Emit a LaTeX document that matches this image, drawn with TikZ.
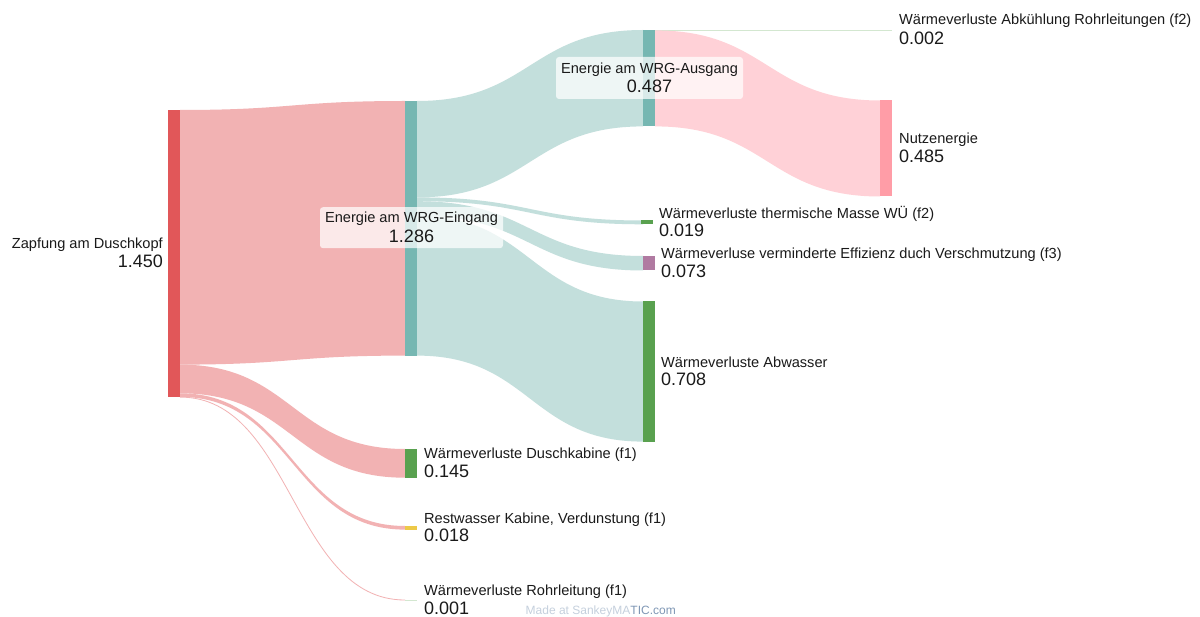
\documentclass[tikz,border=0pt]{standalone}
\usepackage{fontspec}
\setmainfont{Liberation Sans}
\definecolor{cred}{HTML}{E15759}
\definecolor{zflow}{HTML}{F2B2B3}
\definecolor{cteal}{HTML}{76B7B2}
\definecolor{tflow}{HTML}{C3DFDC}
\definecolor{cpink}{HTML}{FF9DA7}
\definecolor{nflow}{HTML}{FFD1D7}
\definecolor{cgreen}{HTML}{59A14F}
\definecolor{cyellow}{HTML}{EDC948}
\definecolor{cpurple}{HTML}{B07AA1}
\definecolor{lgreen}{HTML}{D3E7D0}
\definecolor{txt}{HTML}{1A1A1A}
\definecolor{madelight}{HTML}{C5D0DD}
\definecolor{madedark}{HTML}{7F97B5}
\newcommand\flowrib[7]{\fill[#7] (#1,#2) .. controls ({(#1+#4)/2},#2) and ({(#1+#4)/2},#5) .. (#4,#5) -- (#4,#6) .. controls ({(#1+#4)/2},#6) and ({(#1+#4)/2},#3) .. (#1,#3) -- cycle;}
\begin{document}
\begin{tikzpicture}[x=1pt,y=-1pt,
  sbar/.style={rectangle, inner sep=0pt, outer sep=0pt, minimum width=12pt, anchor=north west},
  lbl/.style={font=\fontsize{14.6}{16}\selectfont, text=txt, inner sep=0pt, anchor=base west},
  num/.style={font=\fontsize{18}{20}\selectfont, text=txt, inner sep=0pt, anchor=base west},
  lblbox/.style={rectangle, fill=white, fill opacity=0.72, rounded corners=3pt, inner sep=0pt}]
\useasboundingbox (0,0) rectangle (1200,617);
\fill[white] (0,0) rectangle (1200,617);
% flows
\flowrib{180}{110}{364.6}{405}{101}{355.6}{zflow}
\flowrib{180}{364.6}{393.3}{405}{449}{477.7}{zflow}
\flowrib{180}{393.3}{396.9}{405}{526}{529.6}{zflow}
\draw[zflow, line width=0.8pt] (180,397.1) .. controls (292.5,397.1) and (292.5,600) .. (405,600);
\flowrib{417}{101}{197.4}{643}{30}{126.4}{tflow}
\flowrib{417}{197.4}{201.2}{643}{220.5}{224.3}{tflow}
\flowrib{417}{201.2}{215.7}{643}{256}{270.5}{tflow}
\flowrib{417}{215.7}{355.6}{643}{301.5}{441.6}{tflow}
\draw[lgreen, line width=1pt] (655,30.2) -- (880,30.2);
\flowrib{655}{30.4}{126.4}{880}{100.5}{196.5}{nflow}
% nodes
\node[sbar, fill=cred, minimum height=286.7pt] (zapf) at (168,110) {};
\node[sbar, fill=cteal, minimum height=254.6pt] (ein) at (405,101) {};
\node[sbar, fill=cgreen, minimum height=28.7pt] (dusch) at (405,449) {};
\node[sbar, fill=cyellow, minimum height=3.6pt] (rest) at (405,526) {};
\node[sbar, fill=lgreen, minimum height=0.8pt] (rohr) at (405,599.6) {};
\node[sbar, fill=cteal, minimum height=96.4pt] (aus) at (643,30) {};
\node[sbar, fill=lgreen, minimum height=0.8pt] (abk) at (880,29.8) {};
\node[sbar, fill=cpink, minimum height=96pt] (nutz) at (880,100.5) {};
\node[sbar, fill=cgreen, minimum height=3.8pt] (therm) at (641,220.5) {};
\node[sbar, fill=cpurple, minimum height=14.5pt] (eff) at (643,256) {};
\node[sbar, fill=cgreen, minimum height=140.1pt] (abw) at (643,301.5) {};
% labels
\node[lbl, anchor=base east] (zapfL) at (163,248.3) {Zapfung am Duschkopf};
\node[num, anchor=base east] (zapfV) at (163,267.3) {1.450};
\node[lblbox, minimum width=183pt, minimum height=41pt] (einbox) at (411.5,227.7) {};
\node[lbl, anchor=base] (einL) at (411.5,223) {Energie am WRG-Eingang};
\node[num, anchor=base] (einV) at (411.5,242.7) {1.286};
\node[lblbox, minimum width=187pt, minimum height=42pt] (ausbox) at (649.5,78) {};
\node[lbl, anchor=base] (ausL) at (649.5,74) {Energie am WRG-Ausgang};
\node[num, anchor=base] (ausV) at (649.5,92.7) {0.487};
\node[lbl] (abkL) at (899,25) {Wärmeverluste Abkühlung Rohrleitungen (f2)};
\node[num] (abkV) at (899,44.3) {0.002};
\node[lbl] (nutzL) at (899,144) {Nutzenergie};
\node[num] (nutzV) at (899,162.7) {0.485};
\node[lbl] (thermL) at (659,218.3) {Wärmeverluste thermische Masse WÜ (f2)};
\node[num] (thermV) at (659,236.7) {0.019};
\node[lbl] (effL) at (661,258.3) {Wärmeverluse verminderte Effizienz duch Verschmutzung (f3)};
\node[num] (effV) at (661,277.3) {0.073};
\node[lbl] (abwL) at (661,367.3) {Wärmeverluste Abwasser};
\node[num] (abwV) at (661,386) {0.708};
\node[lbl] (duschL) at (424,459) {Wärmeverluste Duschkabine (f1)};
\node[num] (duschV) at (424,477.3) {0.145};
\node[lbl] (restL) at (424,523.3) {Restwasser Kabine, Verdunstung (f1)};
\node[num] (restV) at (424,541.7) {0.018};
\node[lbl] (rohrL) at (424,595) {Wärmeverluste Rohrleitung (f1)};
\node[num] (rohrV) at (424,614) {0.001};
\node[inner sep=0pt, anchor=base west, font=\fontsize{12}{14}\selectfont] (made) at (525.5,614) {\textcolor{madelight}{Made at SankeyMA}\textcolor{madedark}{TIC.com}};
\end{tikzpicture}
\end{document}
